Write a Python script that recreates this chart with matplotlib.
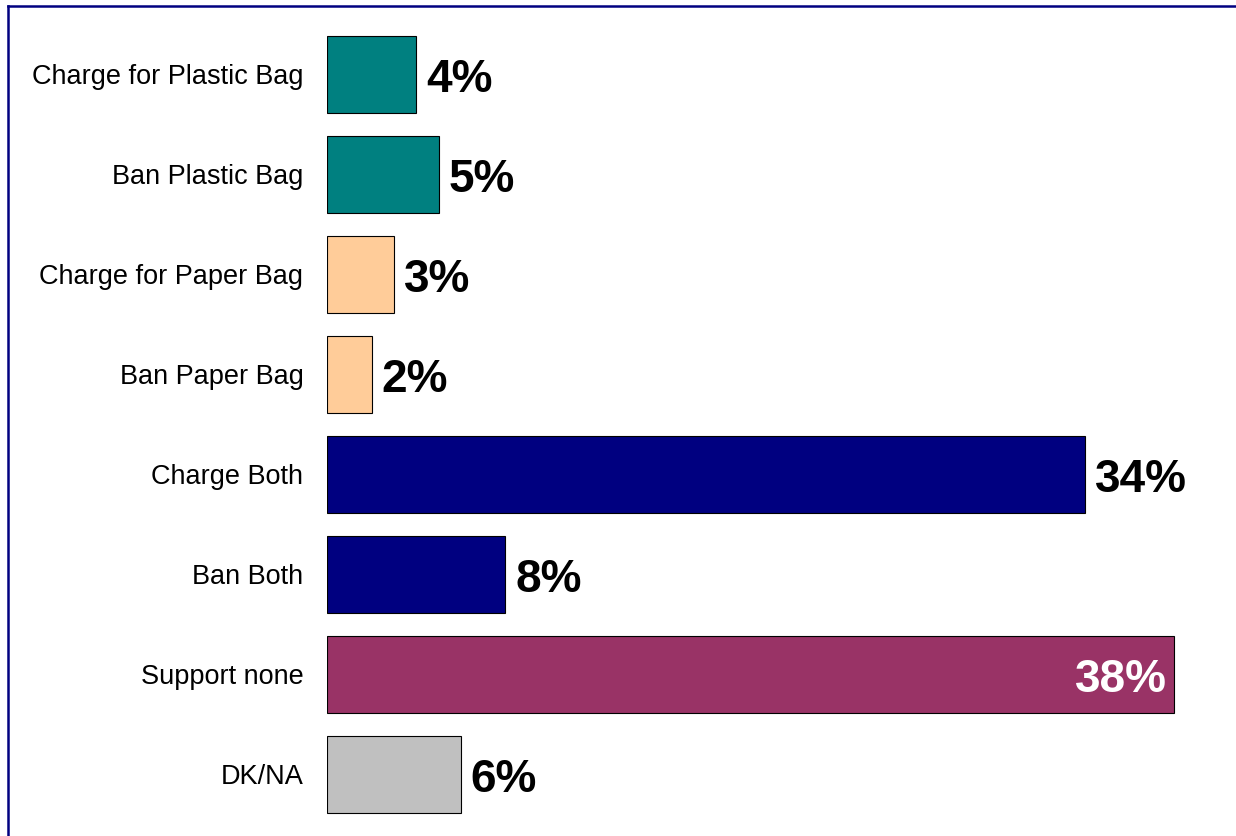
import matplotlib.pyplot as plt
from matplotlib.lines import Line2D

plt.rcParams['font.family'] = ['Liberation Sans', 'DejaVu Sans']

categories = ["Charge for Plastic Bag", "Ban Plastic Bag", "Charge for Paper Bag",
              "Ban Paper Bag", "Charge Both", "Ban Both", "Support none", "DK/NA"]
values = [4, 5, 3, 2, 34, 8, 38, 6]
colors = ["#008080", "#008080", "#FFCC99", "#FFCC99",
          "#000080", "#000080", "#993366", "#C0C0C0"]

fig = plt.figure(figsize=(12.36, 8.36), dpi=100)
ax = fig.add_axes([327 / 1236, 11.5 / 836, 892 / 1236, 800 / 836])

pos = list(range(len(categories)))
ax.barh(pos, values, height=0.77, color=colors, edgecolor="black", linewidth=0.8)

# value labels sit on the baseline, a bit below the bar centre
for p, v in zip(pos, values):
    if v == max(values):
        ax.text(v - 0.35, p + 0.175, f"{v}%", ha="right", va="baseline",
                fontsize=33, fontweight="bold", color="white")
    else:
        ax.text(v + 0.45, p + 0.175, f"{v}%", ha="left", va="baseline",
                fontsize=33, fontweight="bold", color="black")

ax.set_xlim(0, 40)
ax.set_ylim(len(categories) - 0.5, -0.5)
ax.set_yticks(pos)
ax.set_yticklabels(categories, fontsize=19.5)
ax.tick_params(axis="y", length=0, pad=17)
ax.set_xticks([])
for s in ax.spines.values():
    s.set_visible(False)

# frame around the chart area
fig.add_artist(Line2D([8 / 1236, 8 / 1236], [0, 1 - 6 / 836], color="#000080", lw=1.8))
fig.add_artist(Line2D([8 / 1236, 1], [1 - 6 / 836, 1 - 6 / 836], color="#000080", lw=1.8))

fig.savefig("out.png", dpi=100)
